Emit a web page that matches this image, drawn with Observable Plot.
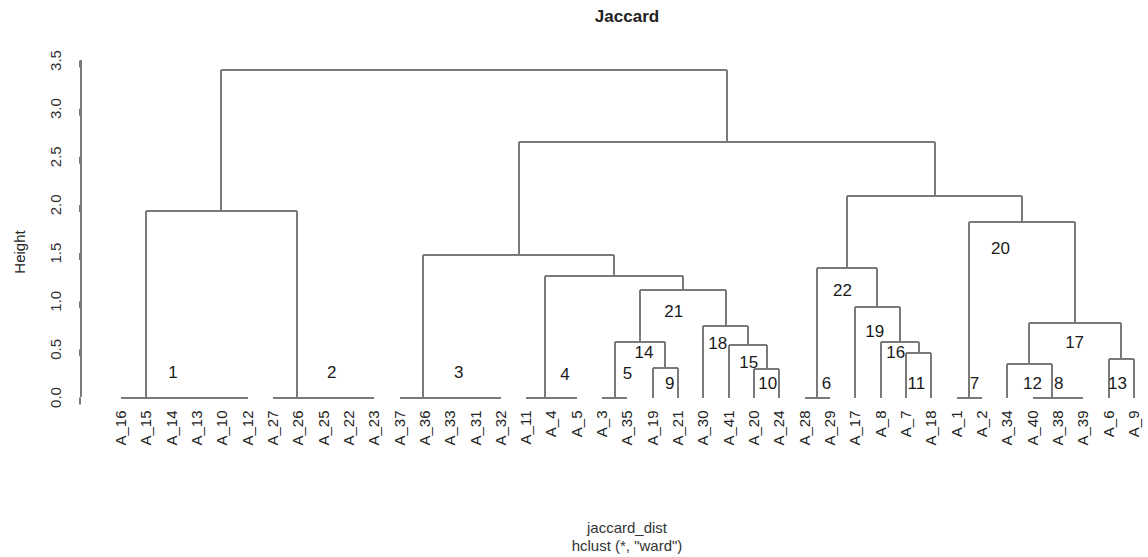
<!DOCTYPE html>
<html><head><meta charset="utf-8">
<script src="https://cdn.jsdelivr.net/npm/d3@7"></script>
<script src="https://cdn.jsdelivr.net/npm/@observablehq/plot@0.6"></script>
<style>
body{margin:0;background:#fff;font-family:"Liberation Sans",Arial,sans-serif;}
#wrap{position:relative;width:1148px;height:557px;overflow:hidden;background:#fff}
#chart{position:absolute;left:0;top:0}
.t{position:absolute;white-space:nowrap;color:#222;text-align:center}
</style></head><body>
<div id="wrap">
<div id="chart"></div>
<div class="t" style="left:527px;width:200px;top:7px;font-size:17px;font-weight:bold;">Jaccard</div>
<div class="t" style="left:19px;top:252px;font-size:15px;transform:translate(-50%,-50%) rotate(-90deg);">Height</div>
<div class="t" style="left:527px;width:200px;top:519px;font-size:15px;line-height:18px;color:#333">jaccard_dist<br>hclust (*, "ward")</div>
</div>
<script>
// Leaf order (left to right)
const leaves = ["A_16","A_15","A_14","A_13","A_10","A_12","A_27","A_26","A_25","A_22","A_23",
  "A_37","A_36","A_33","A_31","A_32","A_11","A_4","A_5","A_3","A_35","A_19","A_21","A_30","A_41",
  "A_20","A_24","A_28","A_29","A_17","A_8","A_7","A_18","A_1","A_2","A_34","A_40","A_38","A_39","A_6","A_9"];

// Merge steps: strings are leaves, numbers are earlier merges (1-based)
const mergeA = ["A_10","A_13","A_14","A_15","A_16","A_22","A_25","A_26","A_27","A_31","A_33","A_36","A_37",
  "A_4","A_11","A_3","A_28","A_1","A_38","A_40",
  "A_19","A_20","A_7","A_34","A_6",16,"A_41","A_8",24,"A_30","A_17",18,26,17,15,13,5,34,36,37];
const mergeB = ["A_12",1,2,3,4,"A_23",6,7,8,"A_32",10,11,12,
  "A_5",14,"A_35","A_29","A_2","A_39",19,
  "A_21","A_24","A_18",20,"A_9",21,22,23,25,27,28,29,30,31,33,35,9,32,38,39];
const mergeHeight = [0,0,0,0,0,0,0,0,0,0,0,0,0,
  0,0,0,0,0,0,0,
  0.31,0.30,0.46,0.35,0.40,0.58,0.55,0.58,0.77,0.74,0.94,1.82,1.12,1.34,1.26,1.48,1.94,2.09,2.65,3.40];

// Numbered annotations (position in leaf units / height units)
const annotText = ["1","2","3","4","5","14","9","21","18","15","10","6","22","19","16","11","7","20","12","8","17","13"];
const annotX = [2.05,8.32,13.34,17.53,20.0,20.65,21.67,21.83,23.57,24.79,25.54,27.86,28.49,29.77,30.6,31.41,33.71,34.73,36.0,37.03,37.66,39.35];
const annotY = [0.255,0.255,0.255,0.24,0.25,0.47,0.15,0.89,0.56,0.36,0.15,0.15,1.11,0.69,0.47,0.15,0.15,1.55,0.15,0.15,0.57,0.15];

const yTicks = [0,0.5,1,1.5,2,2.5,3,3.5];

// Build dendrogram segments
const leafIndex = new Map(leaves.map((d,i)=>[d,i]));
const nodeX = [], nodeH = [];
const pos = r => typeof r === "string" ? [leafIndex.get(r), 0] : [nodeX[r-1], nodeH[r-1]];
const segs = [];
mergeA.forEach((a,i)=>{
  const [xa,ha] = pos(a), [xb,hb] = pos(mergeB[i]), h = mergeHeight[i];
  nodeX[i] = (xa+xb)/2; nodeH[i] = h;
  segs.push({x1:xa,y1:h,x2:xb,y2:h});
  if (h > ha) segs.push({x1:xa,y1:ha,x2:xa,y2:h});
  if (h > hb) segs.push({x1:xb,y1:hb,x2:xb,y2:h});
});

const xDomain = [-1.6, 40.5];
const font = "'Liberation Sans', Arial, sans-serif";
const lineColor = "#7a7a7a";
const chart = Plot.plot({
  width:1148, height:557,
  marginLeft:80, marginRight:2, marginTop:60, marginBottom:160,
  x:{domain:xDomain, axis:null},
  y:{domain:[0,3.5], axis:null},
  style:{fontFamily:font, background:"transparent", color:"#222"},
  marks:[
    Plot.link(segs,{x1:"x1",y1:"y1",x2:"x2",y2:"y2",stroke:lineColor,strokeWidth:2,shapeRendering:"crispEdges"}),
    Plot.ruleX([xDomain[0]],{y1:yTicks[0],y2:yTicks[yTicks.length-1],stroke:lineColor,strokeWidth:2,shapeRendering:"crispEdges"}),
    Plot.axisY(yTicks,{tickFormat:d3.format(".1f"), tickSize:7, tickPadding:17, rotate:-90, textAnchor:"middle", fontSize:15, stroke:lineColor, strokeWidth:2, fill:"#333"}),
    Plot.text(leaves,{x:(d,i)=>i, y:()=>0, text:d=>d, rotate:-90, textAnchor:"end", lineAnchor:"bottom", dx:5, dy:13, fontSize:15, fill:"#222"}),
    Plot.text(annotText,{x:(d,i)=>annotX[i], y:(d,i)=>annotY[i], text:d=>d, fontSize:17, fill:"#1a1a1a"})
  ]
});
document.getElementById("chart").appendChild(chart);
</script>
</body></html>
